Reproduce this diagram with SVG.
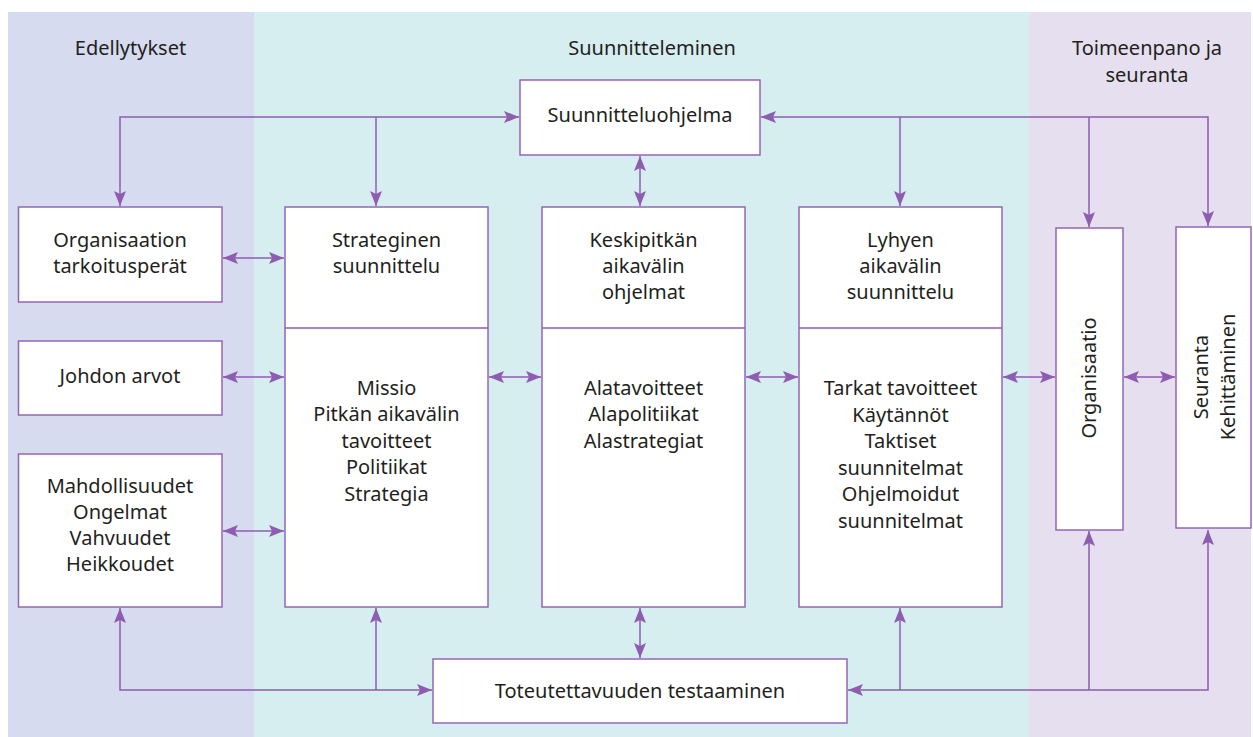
<svg xmlns="http://www.w3.org/2000/svg" width="1253" height="737" viewBox="0 0 1253 737">
<style>
.t{font-family:"Noto Sans","Open Sans",sans-serif;font-size:20px;fill:#231f20;text-anchor:middle}
.b{fill:#fff;stroke:#9466b5;stroke-width:1.5}
.c{fill:none;stroke:#8e5cb0;stroke-width:1.5}
</style>
<defs>
<marker id="a" markerUnits="userSpaceOnUse" markerWidth="15" markerHeight="12" refX="15" refY="6" orient="auto-start-reverse" viewBox="0 0 15 12">
<path d="M0,0 L15,6 L0,12 L3,6 z" fill="#8e5cb0"/>
</marker>
</defs>
<g id="bands">
<rect x="8" y="12" width="246" height="725" fill="#d6dbef"/>
<rect x="254" y="12" width="775" height="725" fill="#d7eef1"/>
<rect x="1029" y="12" width="222" height="725" fill="#e5dfef"/>
<text class="t" x="130.5" y="55">Edellytykset</text>
<text class="t" x="652" y="55">Suunnitteleminen</text>
<text class="t" x="1147" y="55">Toimeenpano ja</text>
<text class="t" x="1147" y="82">seuranta</text>
</g>
<g id="connectors" class="c">
<path class="c" d="M120,206 V117 H519" marker-start="url(#a)" marker-end="url(#a)"/>
<path class="c" d="M376,117 V206" marker-end="url(#a)"/>
<path class="c" d="M761,117 H1208 V226" marker-start="url(#a)" marker-end="url(#a)"/>
<path class="c" d="M900,117 V206" marker-end="url(#a)"/>
<path class="c" d="M1089,117 V227" marker-end="url(#a)"/>
<path class="c" d="M640,156 V206" marker-start="url(#a)" marker-end="url(#a)"/>
<path class="c" d="M223,258 H284" marker-start="url(#a)" marker-end="url(#a)"/>
<path class="c" d="M223,377 H284" marker-start="url(#a)" marker-end="url(#a)"/>
<path class="c" d="M223,531 H284" marker-start="url(#a)" marker-end="url(#a)"/>
<path class="c" d="M489,377 H541" marker-start="url(#a)" marker-end="url(#a)"/>
<path class="c" d="M746,377 H798" marker-start="url(#a)" marker-end="url(#a)"/>
<path class="c" d="M1003,377 H1055" marker-start="url(#a)" marker-end="url(#a)"/>
<path class="c" d="M1124,377 H1175" marker-start="url(#a)" marker-end="url(#a)"/>
<path class="c" d="M120,608 V690 H432" marker-start="url(#a)" marker-end="url(#a)"/>
<path class="c" d="M376,690 V608" marker-end="url(#a)"/>
<path class="c" d="M640,608 V658" marker-start="url(#a)" marker-end="url(#a)"/>
<path class="c" d="M1208,530 V690 H848" marker-start="url(#a)" marker-end="url(#a)"/>
<path class="c" d="M900,690 V608" marker-end="url(#a)"/>
<path class="c" d="M1089,690 V531" marker-end="url(#a)"/>
</g>
<g id="suunnitteluohjelma">
<rect class="b" x="520" y="80" width="240" height="75"/>
<text class="t" x="640" y="122">Suunnitteluohjelma</text>
</g>
<g id="organisaation-tarkoitusperat">
<rect class="b" x="18.5" y="207" width="203.5" height="95"/>
<text class="t" x="120" y="247">Organisaation</text>
<text class="t" x="120" y="273">tarkoitusperät</text>
</g>
<g id="johdon-arvot">
<rect class="b" x="18.5" y="341" width="203.5" height="74"/>
<text class="t" x="120" y="383">Johdon arvot</text>
</g>
<g id="mahdollisuudet">
<rect class="b" x="18.5" y="454" width="203.5" height="153"/>
<text class="t" x="120" y="493">Mahdollisuudet</text>
<text class="t" x="120" y="519">Ongelmat</text>
<text class="t" x="120" y="545">Vahvuudet</text>
<text class="t" x="120" y="571">Heikkoudet</text>
</g>
<g id="strateginen">
<rect class="b" x="285" y="207" width="203" height="400"/>
<line class="c" x1="285" y1="328" x2="488" y2="328"/>
<text class="t" x="386.5" y="246.5">Strateginen</text>
<text class="t" x="386.5" y="273">suunnittelu</text>
<text class="t" x="386.5" y="394.5">Missio</text>
<text class="t" x="386.5" y="421">Pitkän aikavälin</text>
<text class="t" x="386.5" y="447.5">tavoitteet</text>
<text class="t" x="386.5" y="474">Politiikat</text>
<text class="t" x="386.5" y="500.5">Strategia</text>
</g>
<g id="keskipitkan">
<rect class="b" x="542" y="207" width="203" height="400"/>
<line class="c" x1="542" y1="328" x2="745" y2="328"/>
<text class="t" x="643.5" y="247">Keskipitkän</text>
<text class="t" x="643.5" y="273">aikavälin</text>
<text class="t" x="643.5" y="299">ohjelmat</text>
<text class="t" x="643.5" y="394.5">Alatavoitteet</text>
<text class="t" x="643.5" y="421">Alapolitiikat</text>
<text class="t" x="643.5" y="447.5">Alastrategiat</text>
</g>
<g id="lyhyen">
<rect class="b" x="799" y="207" width="203" height="400"/>
<line class="c" x1="799" y1="328" x2="1002" y2="328"/>
<text class="t" x="900.5" y="247">Lyhyen</text>
<text class="t" x="900.5" y="273">aikavälin</text>
<text class="t" x="900.5" y="299">suunnittelu</text>
<text class="t" x="900.5" y="395">Tarkat tavoitteet</text>
<text class="t" x="900.5" y="421.5">Käytännöt</text>
<text class="t" x="900.5" y="448">Taktiset</text>
<text class="t" x="900.5" y="474.5">suunnitelmat</text>
<text class="t" x="900.5" y="501">Ohjelmoidut</text>
<text class="t" x="900.5" y="527.5">suunnitelmat</text>
</g>
<g id="organisaatio">
<rect class="b" x="1056" y="228" width="67" height="302"/>
<text class="t" transform="translate(1096,378) rotate(-90)">Organisaatio</text>
</g>
<g id="seuranta">
<rect class="b" x="1176" y="227" width="75" height="301"/>
<text class="t" transform="translate(1208,377) rotate(-90)">Seuranta</text>
<text class="t" transform="translate(1235,377) rotate(-90)">Kehittäminen</text>
</g>
<g id="toteutettavuus">
<rect class="b" x="433" y="659" width="414" height="64"/>
<text class="t" x="640" y="698">Toteutettavuuden testaaminen</text>
</g>
</svg>
